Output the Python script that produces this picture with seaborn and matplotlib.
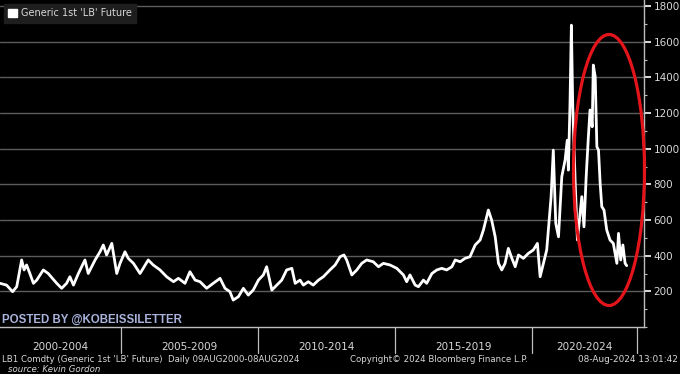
import numpy as np
import pandas as pd
import seaborn as sns
import matplotlib
matplotlib.use("Agg")
import matplotlib.pyplot as plt
from matplotlib.patches import Ellipse, Patch
from matplotlib.transforms import blended_transform_factory

# ---- data (decimal years, USD per 1000 board feet) ----
years = [2000.58, 2000.82, 2001.04, 2001.19, 2001.37, 2001.46, 2001.55, 2001.67, 2001.80, 2001.92,
         2002.16, 2002.34, 2002.65, 2002.83, 2003.01, 2003.13, 2003.26, 2003.44, 2003.68, 2003.80,
         2004.05, 2004.23, 2004.35, 2004.47, 2004.66, 2004.84, 2004.96, 2005.14, 2005.26, 2005.45,
         2005.69, 2005.99, 2006.17, 2006.42, 2006.66, 2006.91, 2007.09, 2007.33, 2007.51, 2007.70,
         2007.88, 2008.12, 2008.36, 2008.61, 2008.79, 2008.97, 2009.09, 2009.28, 2009.46, 2009.64,
         2009.82, 2010.01, 2010.19, 2010.31, 2010.50, 2010.68, 2010.86, 2011.04, 2011.23, 2011.35,
         2011.53, 2011.65, 2011.83, 2012.01, 2012.20, 2012.38, 2012.62, 2012.81, 2012.99, 2013.13,
         2013.23, 2013.42, 2013.60, 2013.78, 2013.96, 2014.20, 2014.39, 2014.57, 2014.81, 2015.06,
         2015.30, 2015.42, 2015.54, 2015.73, 2015.85, 2016.03, 2016.15, 2016.34, 2016.52, 2016.70,
         2016.88, 2017.07, 2017.19, 2017.37, 2017.55, 2017.73, 2017.92, 2018.10, 2018.22, 2018.40,
         2018.52, 2018.65, 2018.77, 2018.89, 2019.01, 2019.13, 2019.26, 2019.38, 2019.50, 2019.68,
         2019.86, 2020.04, 2020.19, 2020.29, 2020.41, 2020.53, 2020.62, 2020.69, 2020.77, 2020.86,
         2020.96, 2021.08, 2021.20, 2021.28, 2021.32, 2021.38, 2021.43, 2021.48, 2021.57, 2021.65,
         2021.75, 2021.81, 2021.89, 2021.97, 2022.05, 2022.11, 2022.19, 2022.23, 2022.30, 2022.36,
         2022.42, 2022.48, 2022.54, 2022.62, 2022.72, 2022.84, 2022.96, 2023.09, 2023.15, 2023.23,
         2023.31, 2023.39, 2023.45]
prices = [245, 235, 198, 226, 376, 320, 348, 300, 245, 263,
          320, 300, 245, 217, 245, 282, 235, 300, 376, 300,
          376, 422, 460, 404, 469, 300, 357, 422, 385, 357,
          300, 376, 348, 320, 282, 254, 273, 245, 310, 263,
          254, 217, 245, 273, 217, 198, 151, 170, 217, 179,
          207, 263, 292, 338, 207, 235, 263, 320, 329, 245,
          263, 235, 254, 235, 263, 282, 320, 348, 394, 404,
          376, 292, 320, 357, 376, 366, 338, 357, 348, 329,
          292, 254, 292, 235, 226, 263, 245, 300, 320, 329,
          320, 338, 376, 366, 385, 394, 460, 488, 544, 656,
          600, 506, 357, 320, 357, 441, 385, 338, 404, 385,
          413, 432, 469, 282, 357, 432, 600, 731, 992, 581,
          506, 843, 936, 1048, 880, 1254, 1693, 1235, 806, 488,
          638, 731, 562, 843, 1067, 1217, 1123, 1469, 1403, 1011,
          992, 806, 675, 656, 544, 488, 469, 357, 525, 376,
          460, 357, 344]
series_label = "Generic 1st 'LB' Future"
last_value_label = "344.00"
band_labels = ["2000-2004", "2005-2009", "2010-2014", "2015-2019", "2020-2024"]
band_edges = [2000.58, 2005.0, 2010.0, 2015.0, 2020.0, 2023.83]
minor_years = list(range(2001, 2024))
y_ticks = [200, 400, 600, 800, 1000, 1200, 1400, 1600, 1800]
y_minor_ticks = [0, 100, 300, 500, 700, 900, 1100, 1300, 1500, 1700]

df = pd.DataFrame({"year": years, "price": prices})

sns.set_style("dark")
plt.rcParams["font.family"] = ["DejaVu Sans"]

fig = plt.figure(figsize=(6.8, 3.74), dpi=100, facecolor="black")
ax = fig.add_axes([0.0, 47 / 374, 644 / 680, 327 / 374])
ax.set_facecolor("black")

grid_c = "#5c5c5c"
txt_c = "#d8d8d8"
axis_c = "#bdbdbd"

for v in y_ticks:
    ax.axhline(v, color=grid_c, lw=1.0, zorder=1)

sns.lineplot(data=df, x="year", y="price", color="white", lw=2.0, ax=ax, zorder=3, legend=False)

ax.set_xlim(2000.58, 2024.08)
ax.set_ylim(0, 1834)
ax.set_xlabel("")
ax.set_ylabel("")
ax.xaxis.label.set_visible(False)
ax.yaxis.label.set_visible(False)
for s in ["top", "left"]:
    ax.spines[s].set_visible(False)
ax.spines["right"].set_color(axis_c)
ax.spines["bottom"].set_color(axis_c)
ax.spines["right"].set_linewidth(1.0)
ax.spines["bottom"].set_linewidth(1.0)

ax.yaxis.tick_right()
ax.set_yticks(y_ticks)
ax.set_yticklabels([str(v) for v in y_ticks])
ax.set_yticks(y_minor_ticks, minor=True)
ax.tick_params(axis="y", which="major", direction="out", length=5, width=1.2, color="white",
               labelsize=7.5, labelcolor=txt_c, pad=2)
ax.tick_params(axis="y", which="minor", direction="out", length=2.5, width=0.8, color=axis_c,
               labelright=False)
ax.tick_params(axis="y", which="both", left=False, right=True)

ax.set_xticks(minor_years)
ax.tick_params(axis="x", which="major", direction="out", length=3, width=0.8, color=axis_c,
               labelbottom=False)

tr = blended_transform_factory(ax.transData, ax.transAxes)
for e in band_edges[1:]:
    ax.plot([e, e], [0, -0.078], transform=tr, color=axis_c, lw=0.9, clip_on=False)
for i, lab in enumerate(band_labels):
    mid = (band_edges[i] + band_edges[i + 1]) / 2
    ax.text(mid, -0.06, lab, transform=tr, ha="center", va="center", fontsize=7.5, color=txt_c)

# last value tag
ax.annotate(last_value_label, xy=(1.0, prices[-1]), xycoords=tr, xytext=(6, 0),
            textcoords="offset points", ha="left", va="center", fontsize=7, color="black",
            bbox=dict(boxstyle="larrow,pad=0.15", fc="white", ec="white"), annotation_clip=False)

# legend
leg = ax.legend(handles=[Patch(facecolor="white", edgecolor="white")], labels=[series_label],
                loc="upper left", bbox_to_anchor=(0.006, 0.988), fontsize=7, frameon=True,
                facecolor="#1e1e1e", edgecolor="#1e1e1e", framealpha=1, handlelength=0.9,
                handleheight=0.9, handletextpad=0.4, borderpad=0.45, borderaxespad=0)
for t in leg.get_texts():
    t.set_color(txt_c)
leg.get_frame().set_boxstyle("square,pad=0")

# red highlight ellipse
ax.add_patch(Ellipse((609 / 644, (327 - 170) / 327), 71 / 644, 271 / 327, transform=ax.transAxes,
                     fill=False, ec="#e4141b", lw=2.3, zorder=5, clip_on=False))

# watermark and footer
fig.text(2 / 680, 1 - 320 / 374, "POSTED BY @KOBEISSILETTER", fontsize=8.3, fontweight="bold",
         color="#a9b3dc", ha="left", va="center", family=["Liberation Sans"])
fig.text(2 / 680, 1 - 360 / 374, "LB1 Comdty (Generic 1st 'LB' Future)  Daily 09AUG2000-08AUG2024",
         fontsize=6.2, color=txt_c, ha="left", va="center")
fig.text(350 / 680, 1 - 360 / 374, "Copyright\u00a9 2024 Bloomberg Finance L.P.",
         fontsize=6.2, color=txt_c, ha="left", va="center")
fig.text(678 / 680, 1 - 360 / 374, "08-Aug-2024 13:01:42",
         fontsize=6.4, color=txt_c, ha="right", va="center")
fig.text(8 / 680, 1 - 369 / 374, "source: Kevin Gordon", fontsize=6.2, color=txt_c,
         style="italic", ha="left", va="center")

fig.savefig("out.png", dpi=100, facecolor="black")
